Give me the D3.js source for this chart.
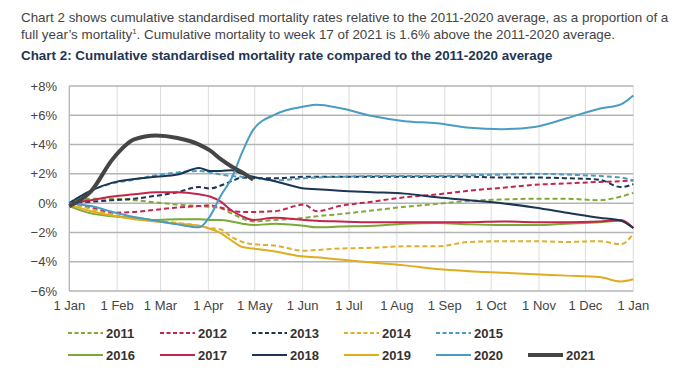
<!DOCTYPE html>
<html><head><meta charset="utf-8">
<script src="https://cdn.jsdelivr.net/npm/d3@7"></script>
<style>
body{margin:0;background:#fff;}
svg{display:block;font-family:"Liberation Sans",Arial,sans-serif;}
</style></head>
<body><svg id="c" width="683" height="383"></svg>
<script>
// Day-of-year positions of the readings (0 = 1 Jan, 365 = next 1 Jan)
const days = [0,14,28,42,56,70,84,91,98,105,112,119,133,152,160,175,196,217,238,259,280,301,322,343,357,365];
const monthLabels = ["1 Jan","1 Feb","1 Mar","1 Apr","1 May","1 Jun","1 Jul","1 Aug","1 Sep","1 Oct","1 Nov","1 Dec","1 Jan"];
const monthDays = [0,31,59,90,120,151,181,212,243,273,304,334,365];
const yTicks = [8,6,4,2,0,-2,-4,-6];

const v2011 = [0,0.3,0.3,0.2,0.05,-0.1,-0.2,-0.25,-0.35,-0.7,-1.05,-1.25,-1.15,-1.0,-0.9,-0.75,-0.5,-0.25,-0.05,0.15,0.25,0.3,0.3,0.2,0.45,0.7];
const v2012 = [0,-0.3,-0.65,-0.6,-0.45,-0.3,-0.2,-0.15,-0.3,-0.5,-0.6,-0.6,-0.55,-0.1,-0.55,-0.2,0.1,0.4,0.6,0.85,1.05,1.25,1.35,1.45,1.5,1.55];
const v2013 = [0,0.1,0.2,0.3,0.5,0.75,1.1,1.0,1.2,1.5,1.75,1.7,1.7,1.8,1.8,1.8,1.8,1.8,1.8,1.8,1.75,1.75,1.7,1.6,1.1,1.3];
const v2014 = [0,-0.4,-0.8,-1.0,-1.2,-1.35,-1.55,-1.7,-1.8,-2.3,-2.65,-2.8,-2.9,-3.25,-3.2,-3.1,-3.05,-2.95,-2.95,-2.65,-2.6,-2.6,-2.65,-2.6,-2.8,-2.1];
const v2015 = [0,0.85,1.35,1.6,1.9,2.1,2.2,2.1,1.95,1.85,1.8,1.75,1.55,1.7,1.75,1.8,1.85,1.85,1.85,1.9,1.95,2.0,1.95,1.85,1.75,1.55];
const v2016 = [-0.2,-0.7,-0.9,-1.0,-1.15,-1.1,-1.1,-1.15,-1.15,-1.25,-1.4,-1.5,-1.4,-1.55,-1.65,-1.6,-1.55,-1.4,-1.35,-1.45,-1.5,-1.5,-1.4,-1.3,-1.2,-1.7];
const v2017 = [0,0.2,0.45,0.6,0.75,0.75,0.6,0.45,0.1,-0.5,-0.9,-1.15,-1.0,-1.15,-1.2,-1.25,-1.3,-1.3,-1.3,-1.3,-1.25,-1.3,-1.3,-1.25,-1.15,-1.7];
const v2018 = [0,0.85,1.4,1.65,1.8,1.95,2.4,2.2,2.2,2.25,2.0,1.8,1.5,1.0,0.95,0.85,0.75,0.65,0.4,0.2,0.0,-0.3,-0.65,-1.0,-1.2,-1.7];
const v2019 = [-0.1,-0.55,-0.85,-1.1,-1.25,-1.4,-1.55,-1.75,-2.05,-2.55,-3.0,-3.1,-3.3,-3.65,-3.7,-3.85,-4.05,-4.25,-4.5,-4.65,-4.75,-4.85,-4.95,-5.05,-5.35,-5.2];
const v2020 = [0,-0.2,-0.6,-0.95,-1.2,-1.45,-1.65,-0.9,0.5,1.7,3.5,5.0,6.05,6.6,6.72,6.5,5.95,5.6,5.45,5.15,5.05,5.2,5.8,6.45,6.75,7.35];
const v2021 = [-0.2,0.8,3.0,4.35,4.62,4.45,4.0,3.6,3.0,2.5,2.1,1.6];

const seriesNames = ["2011","2012","2013","2014","2015","2016","2017","2018","2019","2020","2021"];
const seriesValues = [v2011,v2012,v2013,v2014,v2015,v2016,v2017,v2018,v2019,v2020,v2021];
const seriesColors = ["#84a93a","#c4254d","#1b3554","#e0ae28","#4b9cc3","#7aa935","#c4254d","#1b3554","#e0ad1e","#4b9cc3","#454545"];
const seriesDashed = [true,true,true,true,true,false,false,false,false,false,false];
const seriesWidth = [2,2,2,2,2,2,2,2,2,2,4];

const svg = d3.select("#c");
const x = d3.scaleLinear().domain([0,365]).range([69.3,633.3]);
const y = d3.scaleLinear().domain([-6,8]).range([291,86]);

// text
svg.append("text").attr("x",21).attr("y",22).attr("font-size",13.4).attr("fill","#444")
  .text("Chart 2 shows cumulative standardised mortality rates relative to the 2011-2020 average, as a proportion of a");
const t2 = svg.append("text").attr("x",21).attr("y",39).attr("font-size",13.4).attr("fill","#444");
t2.append("tspan").text("full year\u2019s mortality");
t2.append("tspan").attr("font-size",8).attr("dy",-5).text("1");
t2.append("tspan").attr("dy",5).text(". Cumulative mortality to week 17 of 2021 is 1.6% above the 2011-2020 average.");
svg.append("text").attr("x",21).attr("y",60).attr("font-size",13.4).attr("font-weight","bold").attr("fill","#1f3553")
  .text("Chart 2: Cumulative standardised mortality rate compared to the 2011-2020 average");

// vertical grid
svg.append("g").selectAll("line").data(monthDays).join("line")
  .attr("x1",d=>x(d)).attr("x2",d=>x(d)).attr("y1",y(8)).attr("y2",y(-6))
  .attr("stroke","#dcdcdc").attr("stroke-width",1);
// horizontal grid
svg.append("g").selectAll("line").data(yTicks).join("line")
  .attr("x1",x(0)).attr("x2",x(365)).attr("y1",d=>y(d)).attr("y2",d=>y(d))
  .attr("stroke","#b4b4b4").attr("stroke-width",1.5);
svg.append("line").attr("x1",x(0)).attr("x2",x(0)).attr("y1",y(8)).attr("y2",y(-6)).attr("stroke","#b4b4b4").attr("stroke-width",1.2);

// y labels
const fmt = d => d>0 ? "+"+d+"%" : d<0 ? "\u2212"+Math.abs(d)+"%" : "0%";
svg.append("g").selectAll("text").data(yTicks).join("text")
  .attr("x",57).attr("y",d=>y(d)+4.5).attr("text-anchor","end").attr("font-size",13).attr("fill","#444")
  .text(fmt);
// x labels
svg.append("g").selectAll("text").data(monthDays).join("text")
  .attr("x",d=>x(d)).attr("y",310).attr("text-anchor","middle").attr("font-size",13).attr("fill","#444")
  .text((d,i)=>monthLabels[i]);

// lines
const line = d3.line().x((d,i)=>x(days[i])).y(d=>y(d)).curve(d3.curveMonotoneX);
const g = svg.append("g");
seriesNames.forEach((n,i)=>{
  g.append("path").attr("d",line(seriesValues[i])).attr("fill","none")
   .attr("stroke",seriesColors[i]).attr("stroke-width",seriesWidth[i])
   .attr("stroke-dasharray",seriesDashed[i]?"5,3":null)
   .attr("stroke-linejoin","round");
});

// legend
const leg = svg.append("g");
seriesNames.forEach((n,i)=>{
  const row = i<5?0:1, col = i<5?i:i-5;
  const lx = 68 + col*92, ly = row===0?333:355;
  leg.append("line").attr("x1",lx).attr("x2",lx+35).attr("y1",ly).attr("y2",ly)
    .attr("stroke",seriesColors[i]).attr("stroke-width",seriesWidth[i]===4?4:2)
    .attr("stroke-dasharray",seriesDashed[i]?"4,2.5":null);
  leg.append("text").attr("x",lx+38).attr("y",ly+4.5).attr("font-size",13).attr("font-weight","bold")
    .attr("fill","#333").text(n);
});
</script></body></html>
